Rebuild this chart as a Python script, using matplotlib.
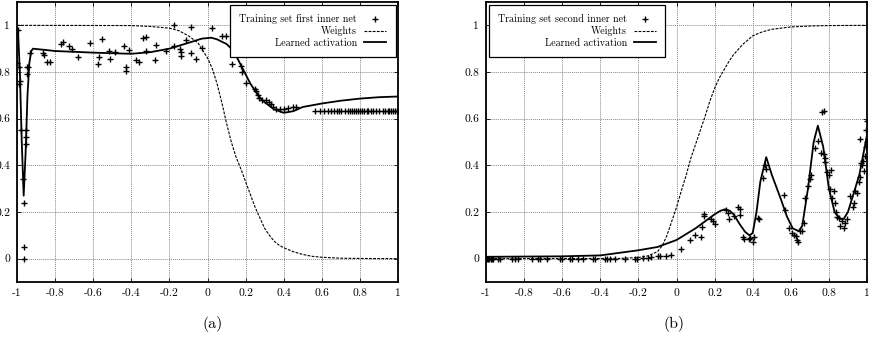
import numpy as np
import matplotlib
matplotlib.use("Agg")
import matplotlib.pyplot as plt

plt.rcParams["font.family"] = ["cmr10", "DejaVu Serif"]
plt.rcParams["axes.unicode_minus"] = False
plt.rcParams["mathtext.fontset"] = "cm"

# ---- panel (a) ----
wa_x = [-1, -0.4, -0.3, -0.2, -0.15, -0.1, -0.05, 0, 0.025, 0.05, 0.075, 0.1,
        0.125, 0.15, 0.175, 0.2, 0.225, 0.25, 0.275, 0.3, 0.325, 0.35, 0.375,
        0.4, 0.45, 0.5, 0.55, 0.6, 0.7, 0.8, 1]
wa_y = [1, 0.999, 0.995, 0.988, 0.977, 0.955, 0.925, 0.86, 0.815, 0.75, 0.67,
        0.58, 0.5, 0.435, 0.385, 0.33, 0.275, 0.22, 0.175, 0.13, 0.1, 0.075,
        0.058, 0.047, 0.03, 0.018, 0.01, 0.006, 0.002, 0.001, 0]

la_x = [-1, -0.995, -0.985, -0.975, -0.965, -0.955, -0.945, -0.935, -0.925, -0.916,
        -0.8, -0.6, -0.4, -0.3, -0.2, -0.1, -0.03, 0.02, 0.05, 0.1, 0.125, 0.15,
        0.175, 0.2, 0.225, 0.25, 0.275, 0.3, 0.35, 0.4, 0.45, 0.5, 0.6, 0.7, 0.8,
        0.9, 1]
la_y = [0.99, 0.985, 0.8, 0.5, 0.27, 0.45, 0.7, 0.84, 0.89, 0.9,
        0.89, 0.883, 0.878, 0.885, 0.9, 0.925, 0.943, 0.947, 0.94, 0.92, 0.9,
        0.87, 0.83, 0.79, 0.75, 0.72, 0.69, 0.67, 0.64, 0.625, 0.632, 0.65, 0.665,
        0.677, 0.686, 0.692, 0.695]

ta_x = [-1, -0.995, -0.99, -0.99, -0.985, -0.98, -0.97, -0.965, -0.965, -0.965,
        -0.955, -0.955, -0.955, -0.95, -0.945, -0.94, -0.93,
        -0.863, -0.858, -0.842, -0.825, -0.767, -0.758, -0.729, -0.71, -0.678,
        -0.618, -0.573, -0.571, -0.552, -0.515, -0.513, -0.487, -0.44, -0.429,
        -0.429, -0.412, -0.374, -0.362, -0.339, -0.325, -0.321, -0.274, -0.272,
        -0.216, -0.178, -0.174, -0.146, -0.14, -0.137, -0.111, -0.088, -0.085,
        -0.059, -0.029, 0.024, 0.076, 0.095, 0.127, 0.138, 0.14, 0.174, 0.183,
        0.2, 0.248, 0.257, 0.265, 0.27, 0.288, 0.309, 0.323, 0.335, 0.344, 0.362,
        0.379, 0.4, 0.421, 0.449, 0.467,
        0.565, 0.59, 0.61, 0.63, 0.65, 0.665, 0.68, 0.69, 0.7, 0.72, 0.735, 0.75,
        0.76, 0.77, 0.78, 0.79, 0.8, 0.81, 0.82, 0.835, 0.845, 0.86, 0.87, 0.885,
        0.9, 0.92, 0.93, 0.945, 0.955, 0.965, 0.975, 0.985, 0.995, 1.0]
ta_y = [0.84, 0.98, 0.82, 0.75, 0.76, 0.55, 0.34, 0.24, 0.05, 0.0,
        0.55, 0.52, 0.49, 0.79, 0.82, 0.82, 0.88,
        0.88, 0.874, 0.845, 0.845, 0.92, 0.93, 0.91, 0.9, 0.863,
        0.923, 0.833, 0.863, 0.94, 0.889, 0.855, 0.884, 0.91, 0.82,
        0.803, 0.894, 0.853, 0.842, 0.944, 0.892, 0.949, 0.852, 0.917,
        0.889, 0.91, 1.0, 0.899, 0.884, 0.87, 0.937, 0.991, 0.88,
        0.855, 0.902, 0.987, 0.956, 0.956, 0.835, 0.963, 0.96, 0.827, 0.8,
        0.755, 0.728, 0.72, 0.703, 0.69, 0.682, 0.678, 0.67, 0.663, 0.649, 0.642,
        0.642, 0.642, 0.646, 0.649, 0.649] + [0.633] * 34

# ---- panel (b) ----
wb_x = [-1, -0.3, -0.2, -0.15, -0.1, -0.075, -0.05, -0.025, 0, 0.025, 0.05,
        0.075, 0.1, 0.125, 0.15, 0.175, 0.2, 0.225, 0.25, 0.275, 0.3, 0.35, 0.4,
        0.45, 0.5, 0.6, 0.7, 0.8, 1]
wb_y = [0, 0.001, 0.005, 0.012, 0.03, 0.055, 0.1, 0.16, 0.22, 0.29, 0.355,
        0.43, 0.49, 0.55, 0.61, 0.675, 0.73, 0.775, 0.81, 0.845, 0.875, 0.92,
        0.955, 0.972, 0.983, 0.993, 0.997, 0.999, 1]

lb_x = [-1, -0.6, -0.4, -0.2, -0.1, -0.05, 0, 0.05, 0.1, 0.15, 0.2, 0.23, 0.256,
        0.28, 0.3, 0.33, 0.36, 0.383, 0.4, 0.42, 0.44, 0.471, 0.5, 0.55, 0.58,
        0.61, 0.641, 0.66, 0.69, 0.72, 0.742, 0.77, 0.8, 0.83, 0.86, 0.877, 0.9,
        0.93, 0.96, 1]
lb_y = [0.008, 0.01, 0.014, 0.036, 0.05, 0.065, 0.08, 0.105, 0.13, 0.16, 0.19,
        0.205, 0.212, 0.205, 0.19, 0.15, 0.115, 0.1, 0.11, 0.2, 0.33, 0.435, 0.36,
        0.25, 0.18, 0.13, 0.118, 0.14, 0.3, 0.5, 0.57, 0.48, 0.3, 0.2, 0.17,
        0.17, 0.2, 0.28, 0.36, 0.53]

tb_x = [-0.997, -0.99, -0.983, -0.976, -0.97, -0.963, -0.935, -0.926, -0.865,
        -0.848, -0.83, -0.76, -0.725, -0.716, -0.68, -0.611, -0.6, -0.559, -0.55,
        -0.515, -0.489, -0.436, -0.427, -0.375, -0.366, -0.349, -0.322, -0.27,
        -0.217, -0.208, -0.177, -0.147, -0.135, -0.095, -0.086, -0.054, -0.028,
        0.025, 0.072, 0.098, 0.128, 0.133, 0.142, 0.145, 0.18, 0.19, 0.203, 0.259,
        0.268, 0.277, 0.3, 0.322, 0.331, 0.334, 0.348, 0.352, 0.378, 0.387, 0.399,
        0.408, 0.426, 0.431, 0.452, 0.466, 0.471, 0.562, 0.567, 0.588, 0.606,
        0.615, 0.629, 0.632, 0.636, 0.65, 0.658, 0.667, 0.676, 0.69, 0.699, 0.708,
        0.725, 0.741, 0.76, 0.764, 0.772, 0.776, 0.781, 0.781, 0.79, 0.799, 0.811,
        0.807, 0.816, 0.825, 0.83, 0.839, 0.842, 0.851, 0.86, 0.869, 0.877, 0.886,
        0.895, 0.912, 0.925, 0.93, 0.939, 0.947, 0.956, 0.961, 0.968, 0.965, 0.974,
        0.979, 0.986, 0.991, 0.995, 1.0, 1.0, 0.996]
tb_y = [0, 0, 0, 0, 0, 0, 0, 0, 0,
        0, 0, 0, 0, 0, 0, 0, 0, 0, 0,
        0, 0, 0, 0, 0, 0, 0, 0, 0,
        0, 0, 0.003, 0.005, 0.006, 0.01, 0.013, 0.01, 0.017,
        0.043, 0.08, 0.1, 0.095, 0.135, 0.185, 0.19, 0.17, 0.162, 0.15, 0.21,
        0.197, 0.168, 0.185, 0.22, 0.187, 0.213, 0.092, 0.083, 0.085, 0.09, 0.073,
        0.095, 0.175, 0.17, 0.345, 0.4, 0.385, 0.275, 0.21, 0.13, 0.11,
        0.1, 0.097, 0.082, 0.072, 0.12, 0.117, 0.155, 0.26, 0.31, 0.34, 0.36,
        0.475, 0.505, 0.455, 0.63, 0.635, 0.45, 0.43, 0.415, 0.37, 0.36, 0.38,
        0.3, 0.26, 0.29, 0.24, 0.2, 0.18, 0.175, 0.14, 0.16, 0.13, 0.155,
        0.17, 0.27, 0.22, 0.24, 0.29, 0.28, 0.33, 0.35, 0.41, 0.515, 0.4,
        0.42, 0.375, 0.44, 0.55, 0.5, 0.59, 0.48]

xticks = [-1, -0.8, -0.6, -0.4, -0.2, 0, 0.2, 0.4, 0.6, 0.8, 1]
xlabels = ["-1", "-0.8", "-0.6", "-0.4", "-0.2", "0", "0.2", "0.4", "0.6", "0.8", "1"]
yticks = [0, 0.2, 0.4, 0.6, 0.8, 1]
ylabels = ["0", "0.2", "0.4", "0.6", "0.8", "1"]

fig = plt.figure(figsize=(8.73, 3.42), dpi=100)
ax1 = fig.add_axes([17 / 873, 1 - 282 / 342, 381 / 873, 280 / 342])
ax2 = fig.add_axes([486 / 873, 1 - 282 / 342, 381 / 873, 280 / 342])


def style(ax):
    ax.set_xlim(-1, 1)
    ax.set_ylim(-0.1, 1.1)
    ax.set_xticks(xticks)
    ax.set_xticklabels(xlabels)
    ax.set_yticks(yticks)
    ax.set_yticklabels(ylabels)
    ax.tick_params(direction="in", top=True, right=True, length=3, width=0.6,
                   labelsize=8.3, pad=5, colors="black")
    ax.grid(True, color="#888888", linestyle=(0, (1, 1)), linewidth=0.7)
    for s in ax.spines.values():
        s.set_linewidth(1.3)


for ax, tx, ty, wx, wy, lx, ly, lab, loc in [
    (ax1, ta_x, ta_y, wa_x, wa_y, la_x, la_y, "Training set first inner net", "upper right"),
    (ax2, tb_x, tb_y, wb_x, wb_y, lb_x, lb_y, "Training set second inner net", "upper left"),
]:
    style(ax)
    ax.plot(tx, ty, linestyle="none", marker="+", color="black", markersize=4.2,
            markeredgewidth=1.0, label=lab, zorder=3)
    ax.plot(wx, wy, color="black", linestyle=(0, (2.5, 1.2)), linewidth=0.8,
            label="Weights", zorder=3)
    ax.plot(lx, ly, color="black", linewidth=1.3, label="Learned activation", zorder=3)
    leg = ax.legend(loc=loc, markerfirst=False, fontsize=7.2, frameon=True,
                    fancybox=False, edgecolor="black", framealpha=1,
                    borderaxespad=0.25, handlelength=2.2, labelspacing=0.2,
                    borderpad=0.95, handletextpad=0.7)
    leg.get_frame().set_linewidth(0.9)
    leg.set_zorder(5)

fig.text(213 / 873, 1 - 324 / 342, "(a)", ha="center", va="center", fontsize=11.5)
fig.text(674 / 873, 1 - 324 / 342, "(b)", ha="center", va="center", fontsize=11.5)

fig.savefig("out.png", dpi=100)
